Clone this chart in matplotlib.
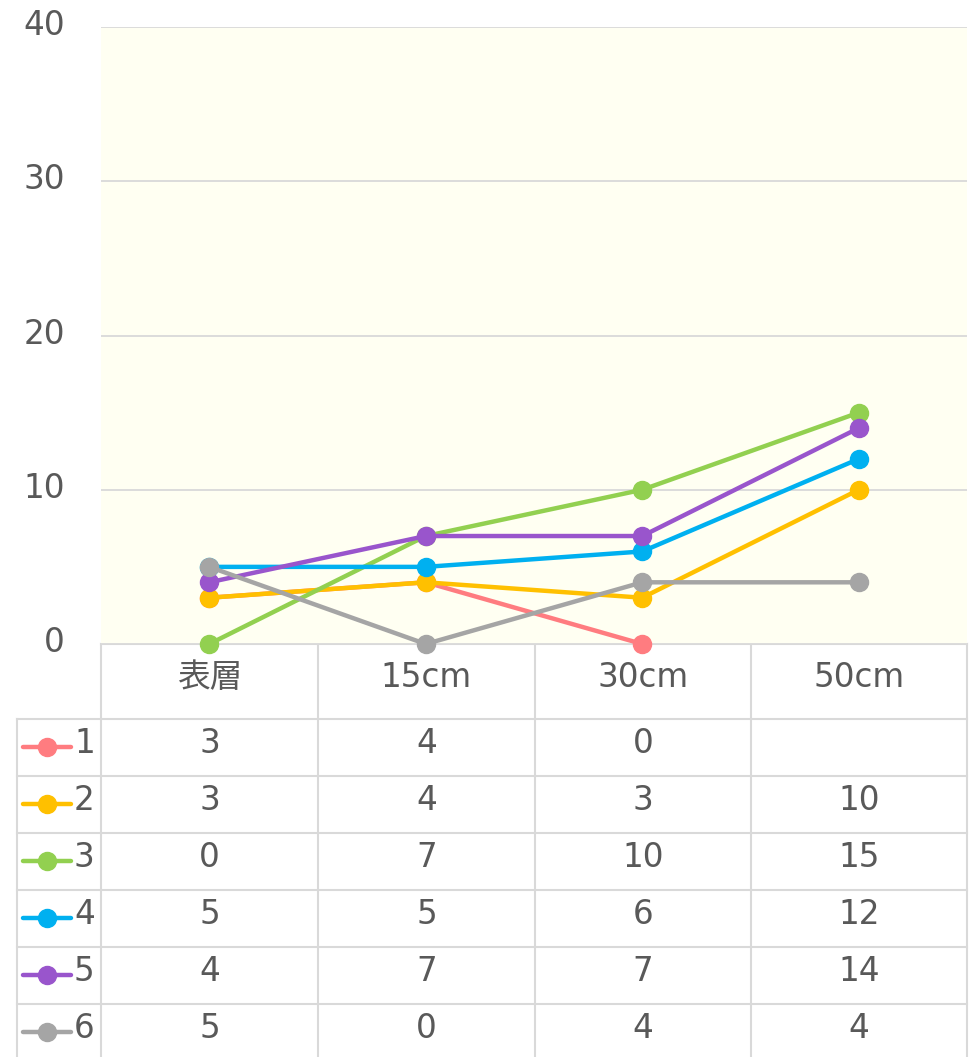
import numpy as np
import matplotlib
matplotlib.use("Agg")
import matplotlib.pyplot as plt
import matplotlib.transforms as mtransforms

plt.rcParams['font.family'] = ['DejaVu Sans', 'Noto Sans CJK JP']

# data
categories = ['表層', '15cm', '30cm', '50cm']
series_names = ['1', '2', '3', '4', '5', '6']
s1 = [3, 4, 0, np.nan]
s2 = [3, 4, 3, 10]
s3 = [0, 7, 10, 15]
s4 = [5, 5, 6, 12]
s5 = [4, 7, 7, 14]
s6 = [5, 0, 4, 4]
series = [s1, s2, s3, s4, s5, s6]
colors = ['#FF7C80', '#FFC000', '#92D050', '#00B0F0', '#9955CC', '#A5A5A5']
yticks = [0, 10, 20, 30, 40]

W, H = 975, 1057
txt = '#595959'
gridc = '#D9D9D9'
fs = 23.5

fig = plt.figure(figsize=(W / 100, H / 100), dpi=100)
fig.patch.set_facecolor('white')

# plot area in pixels
L, R, T, B = 101, 967, 27, 644
ax = fig.add_axes([L / W, 1 - B / H, (R - L) / W, (B - T) / H])
ax.set_facecolor('#FFFFF2')
ax.set_xlim(-0.5, len(categories) - 0.5)
ax.set_ylim(0, 40)
for s in ax.spines.values():
    s.set_visible(False)
ax.set_xticks([])
ax.set_yticks(yticks)
ax.set_yticklabels([str(v) for v in yticks], fontsize=fs, color=txt)
ax.tick_params(axis='y', length=0, pad=26)
off = mtransforms.ScaledTranslation(0, 5 / 100, fig.dpi_scale_trans)
for lab in ax.get_yticklabels():
    lab.set_transform(lab.get_transform() + off)
ax.grid(axis='y', color=gridc, lw=1.3)
ax.set_axisbelow(True)

x = np.arange(len(categories))
for vals, c in zip(series, colors):
    ax.plot(x, vals, '-o', color=c, lw=3.2, ms=13, clip_on=False, zorder=3)

# data table drawn in pixel coords
tb = fig.add_axes([0, 0, 1, 1], zorder=-1)
tb.set_xlim(0, W)
tb.set_ylim(H, 0)
tb.axis('off')

col_edges = [17, 101, 318, 535, 751, 967]
row_h = 57
hdr_top, hdr_bot = 644, 719
row_edges = [hdr_bot + i * row_h for i in range(len(series) + 1)]

lw = 1.5
tb.plot([col_edges[1], col_edges[-1]], [hdr_top, hdr_top], color=gridc, lw=lw)
for ye in row_edges:
    tb.plot([col_edges[0], col_edges[-1]], [ye, ye], color=gridc, lw=lw)
tb.plot([col_edges[0], col_edges[0]], [hdr_bot, H + 10], color=gridc, lw=lw)
for xe in col_edges[1:]:
    tb.plot([xe, xe], [hdr_top, H + 10], color=gridc, lw=lw)

centers = [(col_edges[i] + col_edges[i + 1]) / 2 for i in range(1, len(col_edges) - 1)]
for cx, cat in zip(centers, categories):
    tb.text(cx, (hdr_top + hdr_bot) / 2 - 4, cat, ha='center', va='center',
            fontsize=fs, color=txt)

for i, (name, vals, c) in enumerate(zip(series_names, series, colors)):
    cy = (row_edges[i] + row_edges[i + 1]) / 2 - 4
    tb.plot([23, 71], [cy + 3, cy + 3], '-', color=c, lw=3.2, solid_capstyle='round')
    tb.plot([47], [cy + 3], 'o', color=c, ms=13)
    tb.text(74, cy, name, ha='left', va='center', fontsize=fs, color=txt)
    for cx, v in zip(centers, vals):
        if not np.isnan(v):
            tb.text(cx, cy, str(int(v)), ha='center', va='center',
                    fontsize=fs, color=txt)

fig.savefig('out.png', dpi=100)
